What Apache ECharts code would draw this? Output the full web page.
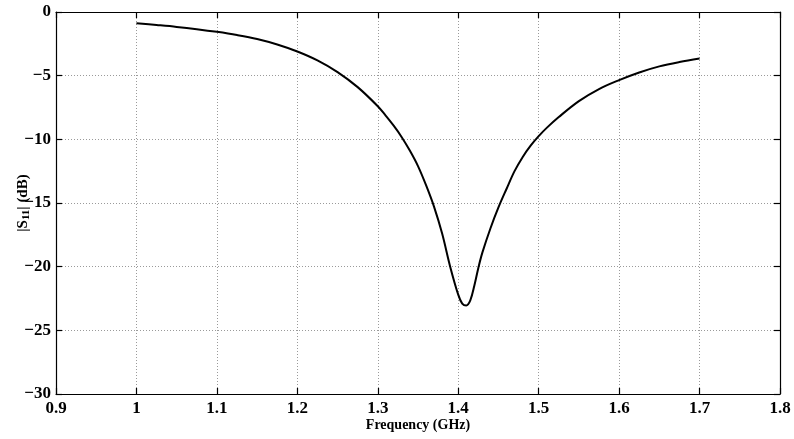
<!DOCTYPE html>
<html>
<head>
<meta charset="utf-8">
<script src="https://cdn.jsdelivr.net/npm/echarts@6/dist/echarts.min.js"></script>
<style>
  html, body { margin: 0; padding: 0; background: #fff; }
  #chart { width: 794px; height: 439px; }
</style>
</head>
<body>
<div id="chart"></div>
<script>
// frequency in GHz, |S11| in dB
const freq = [1.00, 1.025, 1.05, 1.075, 1.10, 1.125, 1.15, 1.175, 1.20, 1.225, 1.25, 1.275, 1.30, 1.31, 1.32, 1.33, 1.34, 1.35, 1.36, 1.37, 1.38, 1.39, 1.40, 1.405, 1.41, 1.415, 1.42, 1.425, 1.43, 1.44, 1.45, 1.46, 1.47, 1.48, 1.49, 1.50, 1.51, 1.525, 1.55, 1.575, 1.60, 1.625, 1.65, 1.675, 1.70];
const s11 = [-0.88, -1.02, -1.17, -1.35, -1.56, -1.81, -2.12, -2.55, -3.1, -3.8, -4.72, -5.9, -7.4, -8.15, -8.95, -9.85, -10.9, -12.1, -13.6, -15.3, -17.4, -20.0, -22.2, -22.9, -23.05, -22.65, -21.5, -20.1, -18.9, -17.0, -15.35, -13.9, -12.5, -11.4, -10.5, -9.75, -9.1, -8.25, -7.0, -6.05, -5.35, -4.75, -4.27, -3.93, -3.66];

const font = 'Liberation Serif';
const labelStyle = { color: '#000', fontFamily: font, fontWeight: 'bold', fontSize: 17 };
const gridLine = { show: true, lineStyle: { color: '#9a9a9a', type: [1, 2], width: 1 } };
const frame = { show: true, onZero: false, lineStyle: { color: '#000', width: 1.2 } };
const innerTick = { show: true, inside: true, length: 6, lineStyle: { color: '#000', width: 1.2 } };

const chartDom = document.getElementById('chart');
const myChart = echarts.init(chartDom, null, { renderer: 'canvas' });

const option = {
    animation: false,
    grid: { left: 56, right: 14, top: 12, bottom: 45, containLabel: false, outerBoundsMode: 'none' },
    xAxis: [
        {
            type: 'value', min: 0.9, max: 1.8, interval: 0.1, position: 'bottom',
            name: 'Frequency (GHz)', nameLocation: 'middle', nameGap: 24, nameMoveOverlap: false,
            nameTextStyle: { color: '#000', fontFamily: font, fontWeight: 'bold', fontSize: 14 },
            axisLine: frame, axisTick: innerTick, splitLine: gridLine,
            axisLabel: Object.assign({ margin: 6, formatter: v => String(+v.toFixed(1)) }, labelStyle)
        },
        {
            type: 'value', min: 0.9, max: 1.8, interval: 0.1, position: 'top',
            axisLine: frame, axisTick: innerTick, splitLine: { show: false }, axisLabel: { show: false }
        }
    ],
    yAxis: [
        {
            type: 'value', min: -30, max: 0, interval: 5, position: 'left',
            name: '|S{sub|11}| (dB)', nameLocation: 'middle', nameGap: 24, nameRotate: 90, nameMoveOverlap: false,
            nameTextStyle: {
                color: '#000', fontFamily: font, fontWeight: 'bold', fontSize: 15,
                rich: { sub: { fontFamily: font, fontWeight: 'bold', fontSize: 11, verticalAlign: 'bottom', padding: [6, 0, 0, 0] } }
            },
            axisLine: frame, axisTick: innerTick, splitLine: gridLine,
            axisLabel: Object.assign({ margin: 5, formatter: v => String(v).replace('-', '\u2212') }, labelStyle)
        },
        {
            type: 'value', min: -30, max: 0, interval: 5, position: 'right',
            axisLine: frame, axisTick: innerTick, splitLine: { show: false }, axisLabel: { show: false }
        }
    ],
    series: [
        {
            type: 'line',
            data: freq.map((f, i) => [f, s11[i]]),
            smooth: 0.35,
            showSymbol: false,
            lineStyle: { color: '#000', width: 2 }
        }
    ]
};
myChart.setOption(option);
</script>
</body>
</html>
